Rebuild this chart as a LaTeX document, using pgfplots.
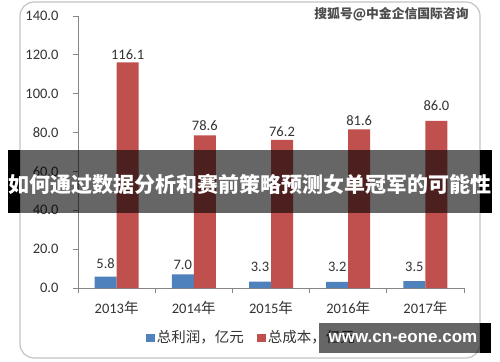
\documentclass[border=0pt]{standalone}
\usepackage{pgfplots}
\pgfplotsset{compat=1.18}
\usepackage{pgfplotstable}
\usepackage{fontspec}
\setmainfont{Carlito}
\newfontfamily\cjk{Noto Sans CJK SC}
\newfontfamily\lib{Liberation Sans}
\definecolor{barblue}{HTML}{4F81BD}
\definecolor{barred}{HTML}{C0504D}
\definecolor{axgray}{HTML}{868686}
\definecolor{txt}{HTML}{333333}
\definecolor{frame}{HTML}{C4C4C4}
\pgfplotstableread{
x profit poff cost coff
0 5.8 13.4 116.1 7.4
1 7.0 10.0 78.6 9.3
2 3.3 14.5 76.2 8.3
3 3.2 15.0 81.6 8.8
4 3.5 14.5 86.0 15.0
}\data
\begin{document}
\begin{tikzpicture}
\useasboundingbox (0,0) rectangle (500bp,362bp);
\fill[white] (0,0) rectangle (500bp,362bp);
\draw[frame, line width=1.2bp, rounded corners=14bp] (20bp,4bp) rectangle (480bp,360bp);
\begin{axis}[
  at={(78bp,74bp)}, anchor=south west,
  scale only axis, width=386bp, height=272bp,
  xmin=-0.5, xmax=4.5, ymin=0, ymax=140,
  axis x line=bottom, axis y line=left,
  axis line style={axgray, line width=0.8bp, -},
  ytick={0,20,...,140},
  /pgf/number format/assume math mode=true,
  yticklabel style={/pgf/number format/.cd, fixed, fixed zerofill, precision=1, /tikz/.cd, font=\fontsize{14.5bp}{16bp}\selectfont, text=txt, xshift=-11bp},
  xtick={0,1,2,3,4},
  xticklabels={2013{\cjk 年},2014{\cjk 年},2015{\cjk 年},2016{\cjk 年},2017{\cjk 年}},
  xticklabel style={font=\fontsize{14.5bp}{16bp}\selectfont, text=txt, yshift=-5bp},
  major x tick style={draw=none},
  minor xtick={-0.5,0.5,1.5,2.5,3.5,4.5},
  tick style={axgray, line width=0.8bp},
  tick align=outside,
  major tick length=5bp, minor tick length=5bp,
  ybar=0pt, bar width=22bp,
  clip=false,
  legend columns=2,
  legend style={at={(axis description cs:0.449,-0.182)}, anchor=center, draw=none, fill=none,
    font=\fontsize{14.5bp}{16bp}\selectfont, text=txt,
    /tikz/every even column/.append style={column sep=12bp},
    nodes={inner sep=1.5bp}},
]
\addplot[fill=barblue, draw=none,
  legend image code/.code={\fill[barblue] (0bp,-4bp) rectangle (9bp,4bp);},
  nodes near coords,
  visualization depends on={\thisrow{poff} \as \myoff},
  nodes near coords style={/pgf/number format/.cd, fixed, fixed zerofill, precision=1, /tikz/.cd, anchor=center, yshift=\myoff*1bp, font=\fontsize{14.5bp}{16bp}\selectfont, text=txt}]
  table[x=x, y=profit]{\data};
\addlegendentry{\cjk 总利润，亿元}
\addplot[fill=barred, draw=none,
  legend image code/.code={\fill[barred] (0bp,-4bp) rectangle (9bp,4bp);},
  nodes near coords,
  visualization depends on={\thisrow{coff} \as \myoff},
  nodes near coords style={/pgf/number format/.cd, fixed, fixed zerofill, precision=1, /tikz/.cd, anchor=center, yshift=\myoff*1bp, font=\fontsize{14.5bp}{16bp}\selectfont, text=txt}]
  table[x=x, y=cost]{\data};
\addlegendentry{\cjk 总成本，亿元}
\end{axis}
% overlay banner
\fill[black, opacity=0.6] (20bp,149bp) rectangle (480bp,212bp);
\fill[black] (8bp,149bp) rectangle (20bp,212bp);
\fill[black] (480bp,149bp) rectangle (492bp,212bp);
\node[text=white, font=\cjk\bfseries\fontsize{21bp}{24bp}\selectfont, inner sep=0] at (250bp,178bp) {如何通过数据分析和赛前策略预测女单冠军的可能性};
% watermark
\node[text=black!70, font=\cjk\bfseries\fontsize{12.8bp}{14bp}\selectfont, inner sep=0] at (391.5bp,348bp) {搜狐号@中金企信国际咨询};
% bottom box
\fill[black, opacity=0.6] (319bp,9bp) rectangle (480bp,39bp);
\fill[black] (480bp,9bp) rectangle (491bp,39bp);
\node[text=white, font=\lib\bfseries\fontsize{17bp}{20bp}\selectfont, inner sep=0] at (403bp,24bp) {www.cn-eone.com};
\end{tikzpicture}
\end{document}
